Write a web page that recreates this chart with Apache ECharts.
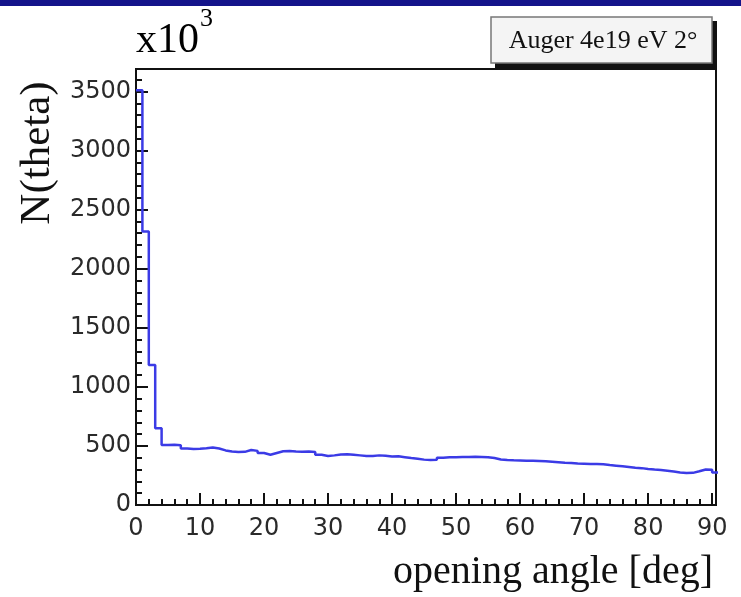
<!DOCTYPE html>
<html>
<head>
<meta charset="utf-8">
<script src="https://cdn.jsdelivr.net/npm/echarts@6/dist/echarts.min.js"></script>
<style>html,body{margin:0;padding:0;background:#fff;}#c{width:741px;height:597px;}</style>
</head>
<body>
<div id="c"></div>
<script>
// Bin lower edges (deg), 1-degree bins
const angles = [0,1,2,3,4,5,6,7,8,9,10,11,12,13,14,15,16,17,18,19,20,21,22,23,24,25,26,27,28,29,30,31,32,33,34,35,36,37,38,39,40,41,42,43,44,45,46,47,48,49,50,51,52,53,54,55,56,57,58,59,60,61,62,63,64,65,66,67,68,69,70,71,72,73,74,75,76,77,78,79,80,81,82,83,84,85,86,87,88,89,90];
// N(theta) in units of 10^3
const counts = [3510,2314,1185,650,508,510,505,478,474,476,480,486,478,462,452,448,450,466,458,440,425,440,455,456,452,450,452,448,425,415,420,428,430,425,420,414,415,420,416,410,412,405,398,392,384,380,382,400,404,405,406,407,408,407,404,398,385,380,378,377,375,374,372,370,366,362,358,355,352,350,348,346,344,338,333,328,322,316,312,305,300,296,290,283,275,270,272,285,300,298,275];
const xTickLabels = ['0','10','20','30','40','50','60','70','80','90'];
const yTickLabels = ['0','500','1000','1500','2000','2500','3000','3500'];
const xTitle = 'opening angle [deg]';
const yTitle = 'N(theta)';
const legendText = 'Auger 4e19 eV 2\u00b0';

const histData = angles.map((a, i) => [a, counts[i]]);
histData.push([angles[angles.length - 1] + 1, counts[counts.length - 1]]);

const chart = echarts.init(document.getElementById('c'), null, {renderer: 'canvas'});
const tickFont = {fontFamily: 'DejaVu Sans', fontSize: 24, color: '#2a2a2a'};

chart.setOption({
  backgroundColor: '#ffffff',
  animation: false,
  grid: {left: 136, top: 69, width: 580, height: 436, show: true, borderColor: '#111', borderWidth: 2, backgroundColor: '#fff'},
  xAxis: {
    type: 'value', min: 0, max: 90.6, interval: 10,
    axisLine: {show: true, onZero: false, lineStyle: {color: '#111', width: 2}},
    axisTick: {show: true, inside: true, length: 12, lineStyle: {color: '#111', width: 2}},
    minorTick: {show: true, splitNumber: 5, length: 6, lineStyle: {color: '#111', width: 2}},
    splitLine: {show: false},
    axisLabel: Object.assign({margin: 12, formatter: v => xTickLabels.includes(String(v)) ? String(v) : ''}, tickFont)
  },
  yAxis: {
    type: 'value', min: 0, max: 3690, interval: 500,
    axisLine: {show: true, lineStyle: {color: '#111', width: 2}},
    axisTick: {show: true, inside: true, length: 12, lineStyle: {color: '#111', width: 2}},
    minorTick: {show: true, splitNumber: 5, length: 6, lineStyle: {color: '#111', width: 2}},
    splitLine: {show: false},
    axisLabel: Object.assign({margin: 5, formatter: v => yTickLabels.includes(String(v)) ? String(v) : ''}, tickFont)
  },
  series: [{
    type: 'line', step: 'end', data: histData, symbol: 'none',
    lineStyle: {color: '#3b3be6', width: 2.5}, clip: true
  }],
  graphic: [
    {type: 'rect', shape: {x: 0, y: 0, width: 741, height: 6}, style: {fill: '#14148a'}},
    {type: 'text', left: 136, top: 6, style: {
      text: '{a|x10}{s|3}', rich: {
        a: {fontFamily: 'Liberation Serif', fontSize: 42, color: '#111', padding: [14, 0, 0, 0]},
        s: {fontFamily: 'Liberation Serif', fontSize: 26, color: '#111', verticalAlign: 'top', padding: [0, 0, 24, 1]}
      }}},
    {type: 'rect', shape: {x: 495, y: 21, width: 222, height: 47}, style: {fill: '#111'}},
    {type: 'rect', shape: {x: 491, y: 17, width: 221, height: 46}, style: {fill: '#f4f4f4', stroke: '#777', lineWidth: 1.5}},
    {type: 'text', x: 603, y: 41, style: {text: legendText, fontFamily: 'Liberation Serif', fontSize: 26, fill: '#111', align: 'center', verticalAlign: 'middle'}},
    {type: 'text', x: 713, y: 572, style: {text: xTitle, fontFamily: 'Liberation Serif', fontSize: 40, fill: '#111', align: 'right', verticalAlign: 'middle'}},
    {type: 'text', x: 38, y: 153, rotation: Math.PI / 2, style: {text: yTitle, fontFamily: 'Liberation Serif', fontSize: 43, fill: '#111', align: 'center', verticalAlign: 'middle'}}
  ]
});
</script>
</body>
</html>
